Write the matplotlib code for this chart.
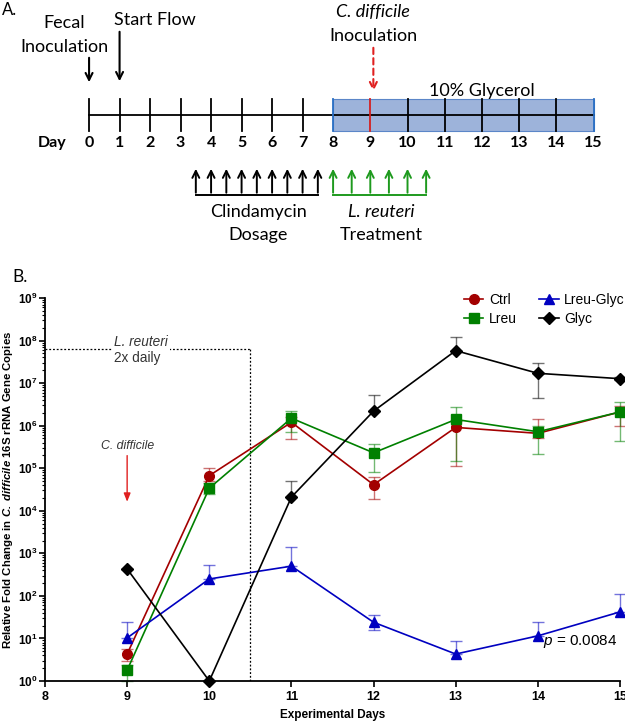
import numpy as np
import matplotlib
matplotlib.use("Agg")
import matplotlib.pyplot as plt
from matplotlib.patches import Rectangle

# ---- panel B data (days 9..15) ----
days = [9, 10, 11, 12, 13, 14, 15]

ctrl = [4.3, 6.7e4, 1.2e6, 4.1e4, 9.1e5, 6.6e5, 2.1e6]
ctrl_hi = [5.5, 1.0e5, 1.6e6, 6.2e4, 1.3e6, 1.45e6, 2.9e6]
ctrl_lo = [3.0, 5.0e4, 4.9e5, 1.9e4, 1.1e5, 5.0e5, 1.0e6]

lreu = [1.8, 3.4e4, 1.5e6, 2.3e5, 1.4e6, 7.2e5, 2.1e6]
lreu_hi = [2.4, 4.5e4, 2.2e6, 3.8e5, 2.8e6, 1.0e6, 3.6e6]
lreu_lo = [1.0, 2.5e4, 7.0e5, 8.0e4, 1.5e5, 2.2e5, 4.4e5]

lreu_glyc = [10.3, 250, 500, 24, 4.3, 11.5, 42]
lreu_glyc_hi = [25, 520, 1400, 35, 8.7, 24, 110]
lreu_glyc_lo = [10.3, 250, 500, 16, 4.3, 11.5, 42]

glyc = [430, 1.0, 2.1e4, 2.2e6, 5.8e7, 1.7e7, 1.27e7]
glyc_hi = [430, 1.0, 5.1e4, 5.3e6, 1.23e8, 3.0e7, 1.4e7]
glyc_lo = [430, 1.0, 2.1e4, 2.2e6, 5.8e7, 4.5e6, 1.2e7]

# ---- panel A timeline ----
timeline_days = list(range(16))
clinda_days = [3.5, 4, 4.5, 5, 5.5, 6, 6.5, 7, 7.5]
lreu_days = [8, 8.5, 9, 9.5, 10, 10.5]
glycerol_start, glycerol_end = 8, 15
cdiff_day = 9

plt.rcParams["font.family"] = ["Liberation Sans", "DejaVu Sans"]
plt.rcParams["mathtext.fontset"] = "custom"
plt.rcParams["mathtext.rm"] = "Liberation Sans:bold"
plt.rcParams["mathtext.it"] = "Liberation Sans:italic"
plt.rcParams["mathtext.bf"] = "Liberation Sans:bold:italic"

fig = plt.figure(figsize=(6.25, 7.24), dpi=100)

# ================= Panel A =================
afont = "Lato"
ax_a = fig.add_axes([0, 1 - 250 / 724, 1, 250 / 724])
ax_a.set_xlim(-2.92, 17.57)
ax_a.set_ylim(250, 0)
ax_a.axis("off")


def tl(d):
    d = np.asarray(d, dtype=float)
    return np.where(d <= 8, d, 8 + (d - 8) * 1.22)


y_line = 115
ax_a.add_patch(Rectangle((tl(glycerol_start), 99), tl(glycerol_end) - tl(glycerol_start), 32,
                         facecolor="#9db3da", edgecolor="#5b86c8", lw=0.8, zorder=1))
ax_a.plot([tl(0), tl(15)], [y_line, y_line], color="black", lw=1.3, zorder=2)
for d in timeline_days:
    if d == cdiff_day:
        c = "#d42020"
    elif d in (glycerol_start, glycerol_end):
        c = "#2a6fc4"
    else:
        c = "black"
    ax_a.plot([tl(d), tl(d)], [99, 131], color=c, lw=1.3, zorder=3)
    ax_a.text(tl(d), 143, str(d), ha="center", va="center", fontsize=11.5,
              fontweight="bold", family=afont)
ax_a.text(-0.75, 143, "Day", ha="right", va="center", fontsize=11.5,
          fontweight="bold", family=afont)

ax_a.text(-2.85, 10, "A.", ha="left", va="center", fontsize=12, family=afont)
ax_a.text(tl(0) - 0.8, 23, "Fecal", ha="center", va="center", fontsize=13, family=afont)
ax_a.text(tl(0) - 0.8, 47, "Inoculation", ha="center", va="center", fontsize=13, family=afont)
ax_a.text(tl(1) + 1.16, 20, "Start Flow", ha="center", va="center", fontsize=13, family=afont)
ax_a.annotate("", xy=(tl(0), 85), xytext=(tl(0), 55),
              arrowprops=dict(arrowstyle="->,head_length=0.5,head_width=0.25", lw=1.5, color="black"))
ax_a.annotate("", xy=(tl(1), 84), xytext=(tl(1), 29),
              arrowprops=dict(arrowstyle="->,head_length=0.5,head_width=0.25", lw=1.5, color="black"))

ax_a.text(tl(cdiff_day) + 0.1, 12, "C. difficile", ha="center", va="center", fontsize=13,
          fontstyle="italic", family=afont)
ax_a.text(tl(cdiff_day) + 0.1, 36, "Inoculation", ha="center", va="center", fontsize=13, family=afont)
ax_a.annotate("", xy=(tl(cdiff_day) + 0.1, 94), xytext=(tl(cdiff_day) + 0.1, 45),
              arrowprops=dict(arrowstyle="->,head_length=0.5,head_width=0.25", lw=1.5,
                              color="#e02020", linestyle=(0, (3, 2))))
ax_a.text(tl(12), 91, "10% Glycerol", ha="center", va="center", fontsize=13, family=afont)

for ev, col in ((clinda_days, "black"), (lreu_days, "#1e9a1e")):
    xs = tl(ev)
    for x in xs:
        ax_a.annotate("", xy=(x, 166), xytext=(x, 195.5),
                      arrowprops=dict(arrowstyle="->,head_length=0.5,head_width=0.25", lw=1.4, color=col))
    ax_a.plot([xs[0], xs[-1]], [195, 195], color=col, lw=1.4)

ax_a.text(tl(5.55), 212, "Clindamycin", ha="center", va="center", fontsize=13, family=afont)
ax_a.text(tl(5.55), 235, "Dosage", ha="center", va="center", fontsize=13, family=afont)
ax_a.text(tl(9.3), 212, "L. reuteri", ha="center", va="center", fontsize=13,
          fontstyle="italic", family=afont)
ax_a.text(tl(9.3), 235, "Treatment", ha="center", va="center", fontsize=13, family=afont)

# ================= Panel B =================
fig.text(12 / 625, 1 - 277 / 724, "B.", ha="left", va="center", fontsize=12.5, family=afont)

ax = fig.add_axes([45 / 625, 1 - 681 / 724, 575 / 625, 383 / 724])
ax.set_yscale("log")
ax.set_xlim(8, 15)
ax.set_ylim(1, 1e9)

series = [
    ("Ctrl", ctrl, ctrl_lo, ctrl_hi, "#a30000", "o", 7),
    ("Lreu", lreu, lreu_lo, lreu_hi, "#008000", "s", 7),
    ("Lreu-Glyc", lreu_glyc, lreu_glyc_lo, lreu_glyc_hi, "#0000c0", "^", 7),
    ("Glyc", glyc, glyc_lo, glyc_hi, "black", "D", 6.5),
]
handles = {}
for name, vals, lo, hi, col, mk, ms in series:
    v = np.array(vals)
    yerr = [v - np.array(lo), np.array(hi) - v]
    ax.errorbar(days, v, yerr=yerr, fmt="none", ecolor=col, alpha=0.55,
                elinewidth=1.0, capsize=4, capthick=1.0, zorder=2, clip_on=False)
    h, = ax.plot(days, v, color=col, marker=mk, markersize=ms, lw=1.2,
                 label=name, zorder=3, clip_on=False)
    handles[name] = h

leg = ax.legend([handles["Ctrl"], handles["Lreu"], handles["Lreu-Glyc"], handles["Glyc"]],
                ["Ctrl", "Lreu", "Lreu-Glyc", "Glyc"], ncol=2, loc="upper right",
                bbox_to_anchor=(1.03, 1.045), frameon=False, fontsize=10,
                handlelength=1.4, columnspacing=1.6, handletextpad=0.4,
                labelspacing=0.35)

# L. reuteri dosing window
ax.plot([8, 10.5], [6.3e7, 6.3e7], color="black", lw=0.9, ls=(0, (1.5, 1.5)), zorder=1)
ax.plot([10.5, 10.5], [1, 6.3e7], color="black", lw=0.9, ls=(0, (1.5, 1.5)), zorder=1)
ax.text(9.17, 9.4e7, "L. reuteri", ha="center", va="center", fontsize=9.8,
        fontstyle="italic", color="#333333", bbox=dict(facecolor="white", edgecolor="none", pad=1.5))
ax.text(9.12, 3.9e7, "2x daily", ha="center", va="center", fontsize=9.8, color="#333333")

ax.text(9.0, 3.4e5, "C. difficile", ha="center", va="center", fontsize=8.8,
        fontstyle="italic", color="#333333")
ax.annotate("", xy=(9.0, 1.4e4), xytext=(9.0, 2.3e5),
            arrowprops=dict(arrowstyle="-|>,head_length=0.5,head_width=0.2", lw=1.0, color="#e02020"))

ax.text(14.97, 8.3, "$p$ = 0.0084", ha="right", va="center", fontsize=11)

ax.spines["top"].set_visible(False)
ax.spines["right"].set_visible(False)
ax.spines["left"].set_linewidth(1.3)
ax.spines["bottom"].set_linewidth(1.3)
ax.set_yticks([10.0 ** k for k in range(10)])
ax.set_yticklabels([f"$10^{{{k}}}$" for k in range(10)])
ax.tick_params(axis="both", which="major", labelsize=9, length=4, width=1.2)
ax.tick_params(axis="y", which="major", labelsize=8.5, pad=1.5)
ax.tick_params(axis="y", which="minor", length=2, width=0.8)
for lab in ax.get_xticklabels():
    lab.set_fontweight("bold")
ax.set_xlabel("Experimental Days", fontsize=8.5, fontweight="bold", labelpad=4)
ax.set_ylabel("Relative Fold Change in $\\mathbf{C.\\ difficile}$ 16S rRNA Gene Copies",
              fontsize=8.2, fontweight="bold")
ax.yaxis.set_label_coords(-0.052, 0.5)

fig.savefig("out.png", dpi=100)
